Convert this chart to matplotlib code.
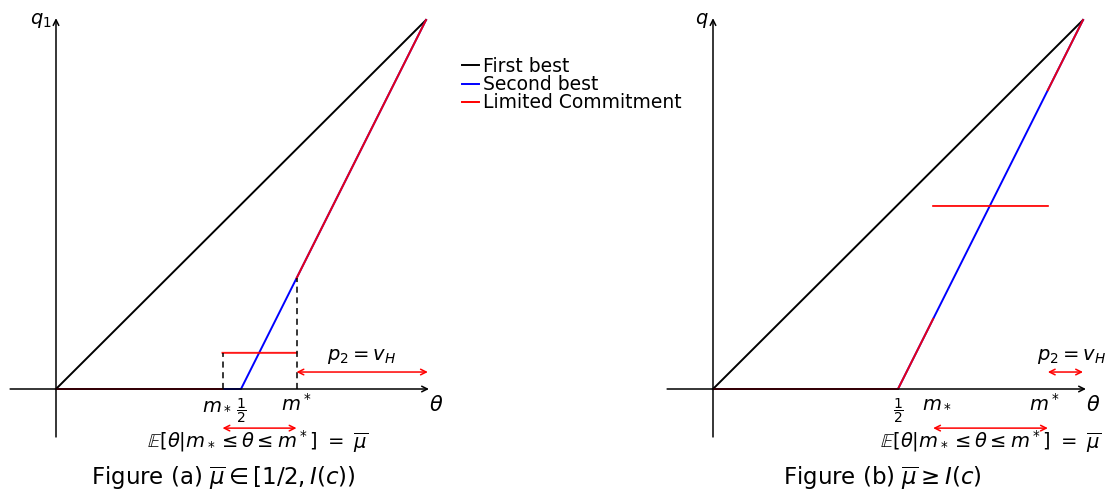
import numpy as np
import matplotlib
matplotlib.use("Agg")
import matplotlib.pyplot as plt

plt.rcParams['font.family'] = ['DejaVu Sans']
plt.rcParams['mathtext.fontset'] = 'dejavusans'

# curves (theta, q)
fb_theta = [0, 1]
fb_q = [0, 1]
sb_theta = [0, 0.5, 1]
sb_q = [0, 0, 1]

# panel (a): pooling interval [m_*, m^*] and limited commitment
a_mlo, a_mhi = 0.45, 0.65
a_lc_theta = [0, 0.45, np.nan, 0.45, 0.65, np.nan, 0.65, 1]
a_lc_q = [0, 0, np.nan, 0.098, 0.098, np.nan, 0.3, 1]
a_dash_q = [0.098, 0.3]

# panel (b)
b_mlo, b_mhi = 0.595, 0.905
b_lc_theta = [0, 0.5, 0.595, np.nan, 0.595, 0.905, np.nan, 0.905, 1]
b_lc_q = [0, 0, 0.19, np.nan, 0.496, 0.496, np.nan, 0.81, 1]

W, H = 1109, 495
fig = plt.figure(figsize=(W / 100, H / 100), dpi=100)

sx, sy = 370.0, 369.0  # px per unit


def make_ax(ox, oy, xlim, ylim):
    # ox, oy: pixel of origin (oy from top)
    left = ox + xlim[0] * sx
    bottom = (H - oy) + ylim[0] * sy
    ax = fig.add_axes([left / W, bottom / H, (xlim[1] - xlim[0]) * sx / W,
                       (ylim[1] - ylim[0]) * sy / H])
    ax.set_xlim(*xlim)
    ax.set_ylim(*ylim)
    ax.axis('off')
    return ax


def axes_arrows(ax, ylabel):
    ax.annotate('', xy=(1.008, 0), xytext=(-0.124, 0),
                arrowprops=dict(arrowstyle='->', color='black', lw=1.1,
                                shrinkA=0, shrinkB=0))
    ax.annotate('', xy=(0, 1.005), xytext=(0, -0.13),
                arrowprops=dict(arrowstyle='->', color='black', lw=1.1,
                                shrinkA=0, shrinkB=0))
    ax.text(-0.012, 1.0, ylabel, ha='right', va='center', fontsize=14)
    ax.text(1.027, -0.043, r'$\theta$', ha='center', va='center', fontsize=15)


def red_arrow(ax, x0, x1, y):
    ax.annotate('', xy=(x1, y), xytext=(x0, y),
                arrowprops=dict(arrowstyle='<->', color='red', lw=1.1,
                                shrinkA=0, shrinkB=0, mutation_scale=10))


lw = 1.4
lab = 14
half = r'$\dfrac{1}{2}$'
expect = r'$\mathbb{E}[\theta|m_* \leq \theta \leq m^*]\ =\ \overline{\mu}$'

axA = make_ax(56, 389, (-0.14, 1.12), (-0.28, 1.05))
axes_arrows(axA, r'$q_1$')
l1, = axA.plot(fb_theta, fb_q, color='black', lw=lw, label='First best')
l2, = axA.plot(sb_theta, sb_q, color='blue', lw=lw, label='Second best')
l3, = axA.plot(a_lc_theta, a_lc_q, color='red', lw=lw, alpha=0.9,
               label='Limited Commitment')
axA.plot([a_mlo, a_mlo], [0, a_dash_q[0]], color='black', lw=1.1, ls=(0, (4, 3)))
axA.plot([a_mhi, a_mhi], [0, a_dash_q[1]], color='black', lw=1.1, ls=(0, (4, 3)))
axA.text(a_mlo - 0.014, -0.04, r'$m_*$', ha='center', va='center', fontsize=lab)
axA.text(0.5, -0.06, half, ha='center', va='center', fontsize=10)
axA.text(a_mhi, -0.04, r'$m^*$', ha='center', va='center', fontsize=lab)
red_arrow(axA, a_mhi, 1.005, 0.046)
axA.text(0.827, 0.087, r'$p_2 = v_H$', ha='center', va='center', fontsize=lab)
red_arrow(axA, a_mlo, a_mhi, -0.106)
axA.text(0.545, -0.142, expect, ha='center', va='center', fontsize=lab)
axA.text(0.451, -0.242, r'Figure (a) $\overline{\mu} \in [1/2, I(c))$',
         ha='center', va='center', fontsize=16.5)

axB = make_ax(713, 389, (-0.14, 1.07), (-0.28, 1.05))
axes_arrows(axB, r'$q$')
axB.plot(fb_theta, fb_q, color='black', lw=lw)
axB.plot(sb_theta, sb_q, color='blue', lw=lw)
axB.plot(b_lc_theta, b_lc_q, color='red', lw=lw, alpha=0.9)
axB.text(0.5, -0.06, half, ha='center', va='center', fontsize=10)
axB.text(b_mlo + 0.01, -0.035, r'$m_*$', ha='center', va='center', fontsize=lab)
axB.text(b_mhi - 0.01, -0.04, r'$m^*$', ha='center', va='center', fontsize=lab)
red_arrow(axB, b_mhi, 1.0, 0.046)
axB.text(1.062, 0.087, r'$p_2 = v_H$', ha='right', va='center', fontsize=lab)
red_arrow(axB, b_mlo, b_mhi, -0.106)
axB.text(0.75, -0.142, expect, ha='center', va='center', fontsize=lab)
axB.text(0.457, -0.242, r'Figure (b) $\overline{\mu} \geq I(c)$',
         ha='center', va='center', fontsize=16.5)

leg = fig.legend(handles=[l1, l2, l3], loc='upper left',
                 bbox_to_anchor=(462 / W, 1 - 57 / H), frameon=False,
                 fontsize=13.5, handlelength=0.9, handletextpad=0.2,
                 labelspacing=-0.05, borderpad=0, borderaxespad=0)
for h in leg.legend_handles:
    h.set_alpha(1)

fig.savefig('out.png', dpi=100)
